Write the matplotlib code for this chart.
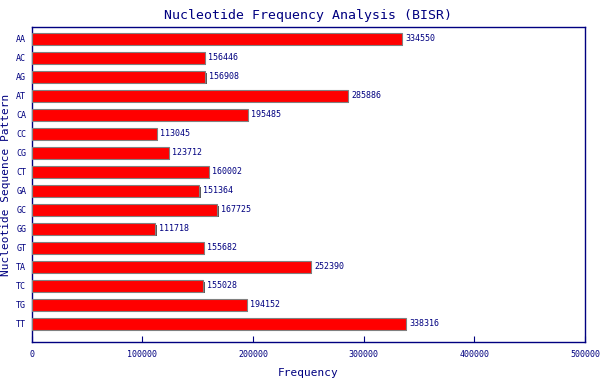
import numpy as np
import matplotlib
matplotlib.use("Agg")
import matplotlib.pyplot as plt

patterns = ["AA", "AC", "AG", "AT", "CA", "CC", "CG", "CT",
            "GA", "GC", "GG", "GT", "TA", "TC", "TG", "TT"]
counts = [334550, 156446, 156908, 285886, 195485, 113045, 123712, 160002,
          151364, 167725, 111718, 155682, 252390, 155028, 194152, 338316]
xticks = [0, 100000, 200000, 300000, 400000, 500000]

navy = "#000080"
plt.rcParams["font.family"] = ["DejaVu Sans Mono"]

fig = plt.figure(figsize=(6, 3.8), dpi=100)
ax = fig.add_axes([0.053, 0.1, 0.922, 0.829])

y = np.arange(len(patterns))
h = 0.62
# shadow, a little right and below
ax.barh(y + 0.08, np.array(counts) + 1200, height=h, color="#5a5a5a", zorder=2)
ax.barh(y, counts, height=h, color="#ff0000", edgecolor="#808080",
        linewidth=0.8, zorder=3)

for yi, c in zip(y, counts):
    ax.text(c + 3000, yi, str(c), va="center", ha="left",
            fontsize=6, color=navy, zorder=4)

ax.set_xlim(0, 500000)
ax.set_ylim(15.95, -0.63)
ax.set_yticks(y)
ax.set_yticklabels(patterns)
ax.set_xticks(xticks)
ax.set_xticklabels([str(t) for t in xticks])
ax.tick_params(axis="y", length=0, labelsize=6, labelcolor=navy, pad=4)
ax.tick_params(axis="x", direction="in", length=4, color=navy,
               labelsize=6, labelcolor=navy, pad=6)

for s in ax.spines.values():
    s.set_color(navy)
    s.set_linewidth(1)

ax.set_title("Nucleotide Frequency Analysis (BISR)", color=navy,
             fontsize=9.5, pad=6)
ax.set_xlabel("Frequency", color=navy, fontsize=8, labelpad=6)
ax.set_ylabel("Nucleotide Sequence Pattern", color=navy, fontsize=8,
              labelpad=4)

fig.savefig("out.png", dpi=100, facecolor="white")
